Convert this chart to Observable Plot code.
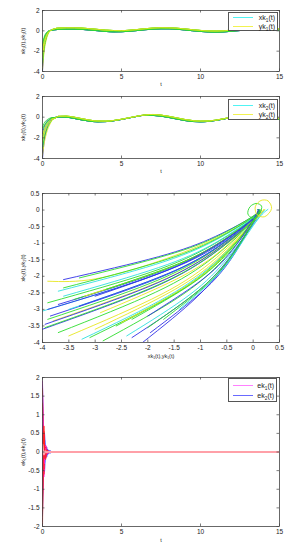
<!DOCTYPE html>
<html><head><meta charset="utf-8">
<script src="https://cdn.jsdelivr.net/npm/d3@7"></script>
<script src="https://cdn.jsdelivr.net/npm/@observablehq/plot@0.6"></script>
<style>
body{margin:0;background:#fff;width:296px;height:550px;position:relative;overflow:hidden;font-family:"Liberation Sans",Arial,sans-serif}
svg{position:absolute;left:0}
g[aria-label="x-axis label"] text, g[aria-label="y-axis label"] text{font-size:5.5px}
.lg{position:absolute;background:#fff;border:0.8px solid #555;box-sizing:border-box;z-index:5}
.r{position:absolute;left:0;width:100%;height:9px;font-size:7px;line-height:9px;color:#222}
.r i{position:absolute;left:4px;top:4px;width:20px;height:1.4px}
.r span{position:absolute;right:2px;top:0}
sub{font-size:4.8px;vertical-align:-1.5px;line-height:0}
</style></head><body>
<div class="lg" style="left:228px;top:12px;width:50px;height:19px">
 <div class="r" style="top:0px"><i style="background:#50f4f4"></i><span>xk<sub>1</sub>(t)</span></div>
 <div class="r" style="top:9px"><i style="background:#f2f250"></i><span>yk<sub>1</sub>(t)</span></div>
</div>
<div class="lg" style="left:228px;top:99px;width:50px;height:21px">
 <div class="r" style="top:1px"><i style="background:#50f4f4"></i><span>xk<sub>2</sub>(t)</span></div>
 <div class="r" style="top:10px"><i style="background:#f2f250"></i><span>yk<sub>2</sub>(t)</span></div>
</div>
<div class="lg" style="left:228px;top:378px;width:49px;height:24px">
 <div class="r" style="top:2px"><i style="background:#ff80ff"></i><span>ek<sub>1</sub>(t)</span></div>
 <div class="r" style="top:12px"><i style="background:#6a6aff"></i><span>ek<sub>2</sub>(t)</span></div>
</div>
<script>
// ---------- data ----------
const COL = {B:"#3030e6", C:"#30e0e0", G:"#2edc2e", Y:"#e6e620", R:"#ff2020", M:"#ff20ff", P:"#ffa0a8", E:"#3a3aff"};

// panel 1: x_k1, y_k1 versus t
const p1EarlyT = [0,0.05,0.1,0.2,0.3,0.4];
const p1TailT = [0.5,0.75,1,1.5,2,2.5,3,3.5,4,4.5,5,5.5,6,6.5,7,7.5,8,8.5,9,9.5,10,10.5,11,11.5,12,12.5,13,13.5,14,14.5,15];
const xk1Tail = [0.04,0.1,0.14,0.17,0.17,0.14,0.08,0.01,-0.06,-0.1,-0.09,-0.04,0.03,0.11,0.17,0.2,0.2,0.16,0.09,0.01,-0.06,-0.11,-0.13,-0.1,-0.04,0.03,0.1,0.15,0.17,0.13,0.06];
const yk1Tail = [0.02,0.2,0.27,0.3,0.3,0.27,0.21,0.14,0.07,0.03,0.02,0.06,0.13,0.21,0.27,0.31,0.3,0.26,0.19,0.11,0.04,-0.01,-0.02,0.01,0.07,0.14,0.21,0.27,0.29,0.26,0.19];
const xk1Early = [
 ["B",[-4.0,-2.6,-1.7,-0.78,-0.3,-0.05]],
 ["B",[-3.5,-2.3,-1.5,-0.68,-0.26,-0.04]],
 ["C",[-3.0,-1.95,-1.28,-0.58,-0.22,-0.03]],
 ["B",[-2.0,-1.3,-0.85,-0.38,-0.14,-0.01]],
 ["G",[-2.5,-1.6,-1.05,-0.48,-0.18,-0.02]],
 ["G",[-1.5,-0.98,-0.64,-0.28,-0.1,0.0]]
];
const yk1Early = [
 ["Y",[-3.8,-2.85,-2.1,-1.15,-0.55,-0.18]],
 ["G",[-3.2,-2.4,-1.76,-0.96,-0.45,-0.14]],
 ["Y",[-2.6,-1.95,-1.43,-0.78,-0.36,-0.1]],
 ["G",[-1.4,-1.05,-0.77,-0.42,-0.19,-0.04]],
 ["Y",[-2.0,-1.5,-1.1,-0.6,-0.28,-0.07]]
];

// panel 2: x_k2, y_k2 versus t
const p2EarlyT = [0,0.1,0.2,0.3,0.45,0.6];
const p2TailT = [0.8,1,1.5,2,2.5,3,3.5,4,4.5,5,5.5,6,6.5,7,7.5,8,8.5,9,9.5,10,10.5,11,11.5,12,12.5,13,13.5,14,14.5,15];
const xk2Tail = [-0.03,0.02,0.0,-0.12,-0.27,-0.39,-0.45,-0.43,-0.35,-0.22,-0.07,0.08,0.19,0.17,0.1,-0.03,-0.18,-0.32,-0.42,-0.45,-0.41,-0.31,-0.17,-0.02,0.1,0.16,0.13,0.04,-0.09,-0.22];
const yk2Tail = [-0.1,0.08,0.1,0.0,-0.15,-0.29,-0.37,-0.38,-0.32,-0.2,-0.05,0.1,0.22,0.26,0.2,0.08,-0.07,-0.22,-0.33,-0.38,-0.36,-0.28,-0.14,0.01,0.14,0.22,0.22,0.14,0.01,-0.13];
const xk2Early = [
 ["B",[-4.0,-2.4,-1.52,-0.96,-0.44,-0.16]],
 ["B",[-3.4,-2.04,-1.29,-0.82,-0.37,-0.14]],
 ["C",[-2.8,-1.68,-1.06,-0.67,-0.31,-0.11]],
 ["B",[-1.6,-0.96,-0.61,-0.38,-0.18,-0.06]],
 ["G",[-2.2,-1.32,-0.84,-0.53,-0.24,-0.09]],
 ["G",[-1.0,-0.6,-0.38,-0.24,-0.11,-0.04]]
];
const yk2Early = [
 ["Y",[-3.7,-2.59,-1.85,-1.3,-0.74,-0.33]],
 ["G",[-3.0,-2.1,-1.5,-1.05,-0.6,-0.27]],
 ["Y",[-2.4,-1.68,-1.2,-0.84,-0.48,-0.22]],
 ["G",[-1.2,-0.84,-0.6,-0.42,-0.24,-0.11]],
 ["Y",[-1.8,-1.26,-0.9,-0.63,-0.36,-0.16]]
];

// panel 3: phase portrait (x,y pairs along each trajectory)
const phaseTraj = [
["B",[-3.6,-2.1,-1.8,-1.41,-0.72,-0.8,0,-0.19,0.1,0]],
["Y",[-3.9,-2.15,-3.0,-2.08,-1.8,-1.55,-0.7,-0.85,0,-0.2,0.12,0]],
["G",[-3.3,-2.05,-1.65,-1.37,-0.66,-0.78,0,-0.18,0.1,0]],
["C",[-3.7,-2.45,-1.85,-1.64,-0.74,-0.93,0,-0.22,0.12,0]],
["G",[-3.6,-2.35,-1.8,-1.57,-0.72,-0.89,0,-0.21,0.1,0]],
["G",[-3.9,-2.8,-1.95,-1.88,-0.78,-1.06,0,-0.25,0.12,0]],
["B",[-3.7,-2.85,-1.85,-1.91,-0.74,-1.08,0,-0.26,0.1,0]],
["C",[-4,-3.05,-2,-2.04,-0.8,-1.16,0,-0.27,0.14,0]],
["B",[-3.85,-3.2,-1.93,-2.14,-0.77,-1.22,0,-0.29,0.1,0]],
["G",[-3.9,-3.3,-1.95,-2.21,-0.78,-1.25,0,-0.3,0.12,0]],
["Y",[-3.8,-3.35,-1.9,-2.24,-0.76,-1.27,0.02,-0.3,0.15,0]],
["B",[-3.95,-3.45,-1.98,-2.31,-0.79,-1.31,0,-0.31,0.1,0]],
["B",[-4,-3.6,-2,-2.41,-0.8,-1.37,0,-0.32,0.12,0]],
["G",[-3.7,-3.7,-1.85,-2.48,-0.74,-1.41,0,-0.33,0.1,0]],
["Y",[-3.5,-3.8,-1.75,-2.55,-0.7,-1.44,0.02,-0.34,0.2,0.02]],
["C",[-3.25,-3.9,-1.63,-2.61,-0.65,-1.48,0.02,-0.35,0.15,0]],
["G",[-3.1,-3.85,-1.55,-2.58,-0.62,-1.46,0,-0.35,0.1,0]],
["G",[-2.85,-3.95,-1.43,-2.65,-0.57,-1.5,0,-0.36,0.1,0]],
["Y",[-3.0,-3.6,-1.5,-2.41,-0.6,-1.37,0.02,-0.32,0.2,0]],
["C",[-2.4,-3.8,-1.2,-2.55,-0.48,-1.44,0.05,-0.34,0.22,0]],
["B",[-2.3,-3.85,-1.15,-2.58,-0.46,-1.46,0,-0.35,0.12,0]],
["B",[-2.1,-4,-1.05,-2.6,-0.42,-1.4,0.02,-0.36,0.15,0]],
["B",[-1.95,-3.7,-0.98,-2.48,-0.39,-1.41,0,-0.33,0.1,0]],
["G",[-2.6,-3.5,-1.3,-2.35,-0.52,-1.33,0,-0.32,0.1,0]],
["Y",[-2.5,-3.4,-1.25,-2.28,-0.5,-1.29,0.03,-0.31,0.22,0.02]],
["G",[-2.3,-3.3,-1.15,-2.21,-0.46,-1.25,0,-0.3,0.1,0]],
["C",[-3.5,-3.0,-1.75,-2.01,-0.7,-1.14,0,-0.27,0.12,0]],
["G",[-3.4,-2.7,-1.7,-1.81,-0.68,-1.03,0,-0.24,0.1,0]],
["Y",[-3.2,-2.6,-1.6,-1.74,-0.64,-0.99,0,-0.23,0.15,0]],
["B",[-3.0,-2.6,-1.5,-1.74,-0.6,-0.99,0,-0.23,0.1,0]],
["G",[-2.8,-2.4,-1.4,-1.61,-0.56,-0.91,0,-0.22,0.1,0]],
["C",[-3.6,-2.6,-1.8,-1.74,-0.72,-0.99,0,-0.23,0.12,0]],
["Y",[-2.9,-3.1,-1.45,-2.08,-0.58,-1.18,0,-0.28,0.15,0]],
["B",[-2.0,-3.2,-1.0,-2.14,-0.4,-1.22,0,-0.29,0.1,0]],
["G",[-1.7,-3.3,-0.85,-2.21,-0.34,-1.25,0.02,-0.3,0.12,0]],
["C",[-1.4,-3.0,-0.7,-2.0,-0.28,-1.14,0.08,-0.3,0.28,0.02]],
["B",[-3.9,-3.0,-1.95,-2.01,-0.78,-1.14,0,-0.27,0.1,0]],
["G",[-3.95,-3.55,-1.98,-2.38,-0.79,-1.35,0,-0.32,0.1,0]],
["B",[-3.3,-2.9,-1.65,-1.94,-0.66,-1.1,0,-0.26,0.1,0]],
["G",[-2.0,-3.55,-1.0,-2.38,-0.4,-1.35,0.02,-0.32,0.12,0]]
];
const phaseLoops = [
["G",[0.16,0.12,0.06,0.2,-0.06,0.1,-0.1,-0.12,0.0,-0.25,0.12,-0.1]],
["Y",[0.35,0.05,0.28,0.28,0.15,0.29,0.04,0.1,0.08,-0.15,0.22,-0.2]]
];

// panel 4: synchronisation errors e_k1, e_k2
const eT = [0,0.03,0.06,0.09,0.12,0.16,0.2,0.26,0.33,0.45,0.6,0.8,15];
const ek2Traj = [
 ["E",[1.8,1.08,0.27,-0.36,-0.54,-0.27,0.09,0.14,-0.07,0.04,0,0,0]],
 ["E",[1.0,0.6,0.15,-0.2,-0.3,-0.15,0.05,0.08,-0.04,0.02,0,0,0]],
 ["E",[0.4,0.24,0.06,-0.08,-0.12,-0.06,0.02,0.03,-0.02,0.01,0,0,0]],
 ["E",[-0.6,-0.36,-0.09,0.12,0.18,0.09,-0.03,-0.05,0.02,-0.01,0,0,0]],
 ["E",[-1.2,-0.72,-0.18,0.24,0.36,0.18,-0.06,-0.1,0.05,-0.02,0,0,0]],
 ["E",[-1.7,-1.02,-0.26,0.34,0.51,0.26,-0.09,-0.14,0.07,-0.03,0,0,0]]
];
const ek1Traj = [
 ["M",[1.9,0.86,-0.29,-0.67,-0.38,0.15,0.19,-0.06,-0.04,0,0,0,0]],
 ["R",[1.7,0.77,-0.26,-0.6,-0.34,0.14,0.17,-0.05,-0.03,0,0,0,0]],
 ["M",[1.5,0.66,-0.22,-0.52,-0.3,0.12,0.15,-0.05,-0.03,0,0,0,0]],
 ["R",[1.3,0.59,-0.2,-0.46,-0.26,0.1,0.13,-0.04,-0.03,0,0,0,0]],
 ["M",[0.9,0.41,-0.14,-0.32,-0.18,0.07,0.09,-0.03,-0.02,0,0,0,0]],
 ["R",[0.5,0.23,-0.08,-0.18,-0.1,0.04,0.05,-0.02,-0.01,0,0,0,0]],
 ["R",[-0.4,-0.18,0.06,0.14,0.08,-0.03,-0.04,0.01,0.01,0,0,0,0]],
 ["M",[-0.8,-0.36,0.12,0.28,0.16,-0.06,-0.08,0.02,0.02,0,0,0,0]],
 ["R",[-1.2,-0.54,0.18,0.42,0.24,-0.1,-0.12,0.04,0.02,0,0,0,0]],
 ["M",[-1.4,-0.63,0.21,0.49,0.28,-0.11,-0.14,0.04,0.03,0,0,0,0]],
 ["R",[-1.6,-0.72,0.24,0.56,0.32,-0.13,-0.16,0.05,0.03,0,0,0,0]],
 ["R",[-2.0,-0.9,0.3,0.7,0.4,-0.16,-0.2,0.06,0.04,0,0,0,0]],
 ["P",[0.2,0.09,-0.03,-0.07,-0.04,0.02,0.02,-0.01,0,0,0,0,0]]
];

// axis ticks
const tTicks = [0,5,10,15];
const p12YTicks = [-4,-2,0,2];
const p3XTicks = [-4,-3.5,-3,-2.5,-2,-1.5,-1,-0.5,0,0.5];
const p3YTicks = [0.5,0,-0.5,-1,-1.5,-2,-2.5,-3,-3.5,-4];
const p4YTicks = [-2,-1.5,-1,-0.5,0,0.5,1,1.5,2];

// ---------- build rows ----------
function tsRows(early, tEarly, tTail, tail, prefix) {
  const rows = [];
  early.forEach(([c, vals], i) => {
    vals.forEach((v, j) => rows.push({id: prefix + i, c, t: tEarly[j], v}));
    tail.forEach((v, j) => rows.push({id: prefix + i, c, t: tTail[j], v}));
  });
  return rows;
}
function pairRows(list, prefix) {
  const rows = [];
  list.forEach(([c, arr], i) => {
    for (let k = 0; k < arr.length; k += 2) rows.push({id: prefix + i, c, x: arr[k], y: arr[k + 1]});
  });
  return rows;
}
function errRows(list, prefix) {
  const rows = [];
  list.forEach(([c, vals], i) => vals.forEach((v, j) => rows.push({id: prefix + i, c, t: eT[j], v})));
  return rows;
}

const ML = 42, MR = 17, W = 296;
const fmt = d => String(d);
function panel({top, height, mt, mb, xdom, ydom, xticks, yticks, xlabel, ylabel, xlo, ylo, marks}) {
  const pw = W - ML - MR, ph = height - mt - mb;
  const svg = Plot.plot({
    width: W, height, marginLeft: ML, marginRight: MR, marginTop: mt, marginBottom: mb,
    style: {fontFamily: "'Liberation Sans', Arial, sans-serif", fontSize: "6.5px", background: "transparent", color: "#222", overflow: "visible"},
    x: {domain: xdom, ticks: xticks, tickFormat: fmt, tickSize: 0, tickPadding: 3, label: xlabel, labelAnchor: "center", labelOffset: xlo, labelArrow: "none"},
    y: {domain: ydom, ticks: yticks, tickFormat: fmt, tickSize: 0, tickPadding: 3, label: ylabel, labelAnchor: "center", labelOffset: ylo, labelArrow: "none"},
    marks: [
      ...marks,
      Plot.frame({stroke: "#444", strokeWidth: 0.8}),
      Plot.tickX(xticks, {insetTop: ph - 2.5, stroke: "#444", strokeWidth: 0.7}),
      Plot.tickX(xticks, {insetBottom: ph - 2.5, stroke: "#444", strokeWidth: 0.7}),
      Plot.tickY(yticks, {insetRight: pw - 2.5, stroke: "#444", strokeWidth: 0.7}),
      Plot.tickY(yticks, {insetLeft: pw - 2.5, stroke: "#444", strokeWidth: 0.7})
    ]
  });
  svg.style.top = top + "px";
  document.body.appendChild(svg);
}
const lineOpts = {x: "t", y: "v", z: "id", stroke: d => COL[d.c], strokeWidth: 0.9, curve: "monotone-x", clip: true};

panel({top: 0, height: 89, mt: 10, mb: 18, xdom: [0, 15], ydom: [-4, 2], xticks: tTicks, yticks: p12YTicks,
  xlabel: "t", ylabel: "xk\u2081(t),yk\u2081(t)", xlo: 14, ylo: 21,
  marks: [
    Plot.line(tsRows(xk1Early, p1EarlyT, p1TailT, xk1Tail, "x"), lineOpts),
    Plot.line(tsRows(yk1Early, p1EarlyT, p1TailT, yk1Tail, "y"), lineOpts)
  ]});

panel({top: 89, height: 87, mt: 7, mb: 18, xdom: [0, 15], ydom: [-4, 2], xticks: tTicks, yticks: p12YTicks,
  xlabel: "t", ylabel: "xk\u2082(t),yk\u2082(t)", xlo: 14, ylo: 21,
  marks: [
    Plot.line(tsRows(xk2Early, p2EarlyT, p2TailT, xk2Tail, "x"), lineOpts),
    Plot.line(tsRows(yk2Early, p2EarlyT, p2TailT, yk2Tail, "y"), lineOpts)
  ]});

panel({top: 183, height: 179, mt: 10, mb: 20, xdom: [-4, 0.5], ydom: [-4, 0.5], xticks: p3XTicks, yticks: p3YTicks,
  xlabel: "xk\u2081(t),yk\u2081(t)", ylabel: "xk\u2082(t),yk\u2082(t)", xlo: 15, ylo: 21,
  marks: [
    Plot.line(pairRows(phaseTraj, "p"), {x: "x", y: "y", z: "id", stroke: d => COL[d.c], strokeWidth: 0.9, curve: "natural", clip: true}),
    Plot.line(pairRows(phaseLoops, "l"), {x: "x", y: "y", z: "id", stroke: d => COL[d.c], strokeWidth: 0.9, curve: "catmull-rom-closed", clip: true})
  ]});

panel({top: 370, height: 180, mt: 7, mb: 24, xdom: [0, 15], ydom: [-2, 2], xticks: tTicks, yticks: p4YTicks,
  xlabel: "t", ylabel: "ek\u2081(t),ek\u2082(t)", xlo: 15, ylo: 21,
  marks: [
    Plot.line(errRows(ek2Traj, "b"), {x: "t", y: "v", z: "id", stroke: d => COL[d.c], strokeWidth: 0.9, curve: "catmull-rom", clip: true}),
    Plot.line(errRows(ek1Traj, "r"), {x: "t", y: "v", z: "id", stroke: d => COL[d.c], strokeWidth: d => d.c === "P" ? 1.8 : 0.9, curve: "catmull-rom", clip: true})
  ]});
</script>
</body></html>
